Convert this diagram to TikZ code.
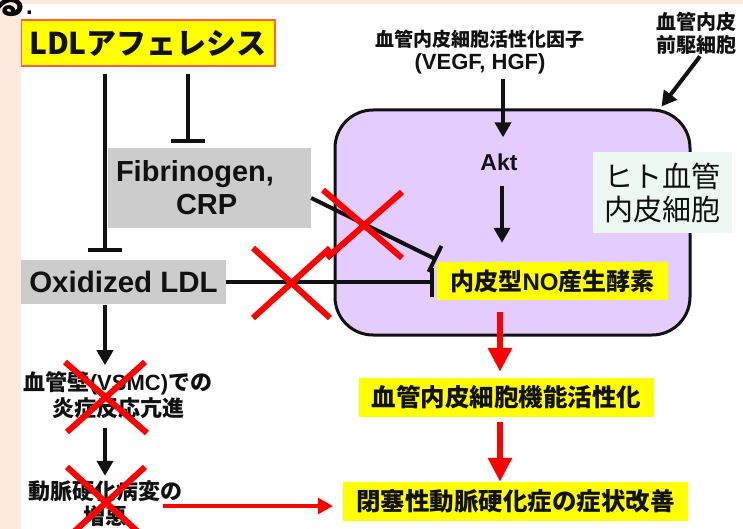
\documentclass[tikz,border=0pt]{standalone}
\usepackage{fontspec}
\setmainfont{Liberation Sans}
\newfontfamily\cjk{Noto Sans CJK JP}
\newfontfamily\arial{Liberation Sans}
\usetikzlibrary{arrows.meta}
\definecolor{peach}{HTML}{FCEADF}
\definecolor{ldlborder}{HTML}{FF6040}
\definecolor{boxyellow}{HTML}{FFFF00}
\definecolor{boxgray}{HTML}{CCCCCC}
\definecolor{cellpurple}{HTML}{E4CCFF}
\definecolor{hitobg}{HTML}{EEF8F3}
\definecolor{xred}{HTML}{FF0000}
\definecolor{ink}{HTML}{111111}
\begin{document}
\begin{tikzpicture}[x=1pt,y=-1pt,
  blk/.style={line width=4pt, draw=ink},
  arr/.style={blk, -{Triangle[length=15pt,width=16pt]}},
  tee/.style={blk, -{Bar[width=34pt]}},
  teeb/.style={blk, -{Bar[width=29pt]}},
  redarr/.style={draw=xred, line width=6pt, -{Triangle[length=24pt,width=23pt]}},
  redarrh/.style={draw=xred, line width=4.5pt, -{Triangle[length=15pt,width=16pt]}},
  redx/.style={draw=xred, line width=6pt},
  ybox/.style={fill=boxyellow, inner sep=0pt, font=\cjk\bfseries\fontsize{24.5}{28}\selectfont, text=ink},
  gbox/.style={fill=boxgray, inner sep=0pt, font=\arial\bfseries, text=ink},
  lbl/.style={inner sep=0pt, align=center, text=ink}
]
\useasboundingbox (0,0) rectangle (743,529);
\fill[white] (0,0) rectangle (743,529);

% cell
\node[draw=ink, line width=3pt, fill=cellpurple, rounded corners=38pt,
      minimum width=355pt, minimum height=225pt, inner sep=0pt] (cell) at (512.5,222.5) {};
\node[fill=hitobg, inner sep=0pt, minimum width=139pt, minimum height=81pt, align=center,
      font=\cjk\fontsize{29}{33}\selectfont, text=ink] (hito) at (662.5,192.5) {ヒト血管\\内皮細胞};

% boxes
\node[fill=boxyellow, draw=ldlborder, line width=1.5pt, inner sep=0pt,
      minimum width=254pt, minimum height=46pt, text=ink,
      font=\cjk\bfseries\fontsize{30}{34}\selectfont] (ldl) at (148,43) {LDLアフェレシス};
\node[gbox, text width=187pt, inner xsep=8pt, inner ysep=0pt, minimum height=80pt, align=left,
      font=\arial\bfseries\fontsize{29}{33}\selectfont] (fib) at (209.5,188) {Fibrinogen,\\\hspace*{60pt}CRP};
\node[gbox, minimum width=205pt, minimum height=44pt,
      font=\arial\bfseries\fontsize{29.5}{33}\selectfont] (ox) at (123.5,282) {Oxidized LDL};

\node[lbl, font=\fontsize{20}{23}\selectfont] (vegf) at (480,52)
  {{\cjk\bfseries\fontsize{19}{23}\selectfont 血管内皮細胞活性化因子}\\{\arial\bfseries\fontsize{22}{23}\selectfont (VEGF, HGF)}};
\node[lbl, font=\cjk\bfseries\fontsize{20}{23}\selectfont] (epc) at (696.5,33) {血管内皮\\前駆細胞};
\node[lbl, font=\arial\bfseries\fontsize{23}{26}\selectfont] (akt) at (499,162) {Akt};

\node[ybox, minimum width=231pt, minimum height=38pt, font=\cjk\bfseries\fontsize{24}{28}\selectfont]
  (nos) at (552.5,281) {内皮型{\arial\bfseries NO}産生酵素};
\node[ybox, minimum width=295pt, minimum height=39pt] (func) at (506.5,397.5) {血管内皮細胞機能活性化};
\node[ybox, minimum width=345pt, minimum height=39pt] (imp) at (515.5,501.5) {閉塞性動脈硬化症の症状改善};

\node[lbl, font=\cjk\bfseries\fontsize{22}{26}\selectfont] (vsmc) at (118,395)
  {血管壁{\arial\bfseries (VSMC)}での\\炎症反応亢進};
\node[lbl, font=\cjk\bfseries\fontsize{22}{25}\selectfont] (ath) at (105.5,504) {動脈硬化病変の\\増悪};

% connectors
\draw[tee] ([xshift=-43pt,yshift=-7pt]ldl.south) -- ([xshift=-18.5pt,yshift=8pt]ox.north);
\draw[tee] ([xshift=40pt,yshift=-7pt]ldl.south) -- ([xshift=-21.5pt,yshift=5pt]fib.north);
\draw[arr] ([xshift=-18.5pt,yshift=-1pt]ox.south) -- ([xshift=-13pt,yshift=6pt]vsmc.north);
\draw[arr] ([xshift=-13pt,yshift=-9pt]vsmc.south) -- ([xshift=-0.5pt,yshift=5pt]ath.north);
\draw[redarrh] ([xshift=-20pt,yshift=-2pt]ath.east) -- ([xshift=-10pt,yshift=-4.5pt]imp.west);
\draw[arr] ([xshift=23pt,yshift=-5pt]vegf.south) -- ([xshift=4pt,yshift=16pt]akt.north);
\draw[arr] ([xshift=3pt,yshift=-15pt]akt.south) -- ([xshift=-50.5pt,yshift=19pt]nos.north);
\draw[redarr] ([xshift=-52.5pt,yshift=-12pt]nos.south) -- ([xshift=-6.5pt,yshift=6pt]func.north);
\draw[redarr] ([xshift=-6.5pt,yshift=-5pt]func.south) -- ([xshift=-15.5pt]imp.north);
\draw[arr] ([xshift=3.5pt,yshift=-2pt]epc.south) -- ([xshift=-30pt,yshift=2pt]cell.north east);
\draw[teeb] ([yshift=-10pt]fib.east) -- ([yshift=2pt]nos.north west);
\draw[teeb] (ox.east) -- ([xshift=-3pt]nos.west |- ox.east);

% red crosses
\draw[redx] (323,190) -- (402,258) (402,192) -- (327,258);
\draw[redx] (253,248) -- (330,318) (330,248) -- (253,318);
\draw[redx] (65,362) -- (147,433) (145,362) -- (67,432);
\draw[redx] (67,467) -- (147,540) (145,467) -- (65,540);

% page margins
\fill[peach] (0,0) rectangle (743,4);
\fill[peach] (0,0) rectangle (21,529);
\node[anchor=base west, inner sep=0pt, text=black, font=\cjk\bfseries\fontsize{32}{32}\selectfont]
  (ru) at (-6,15) {る{\arial\bfseries\fontsize{24}{24}\selectfont .}};
\end{tikzpicture}
\end{document}
